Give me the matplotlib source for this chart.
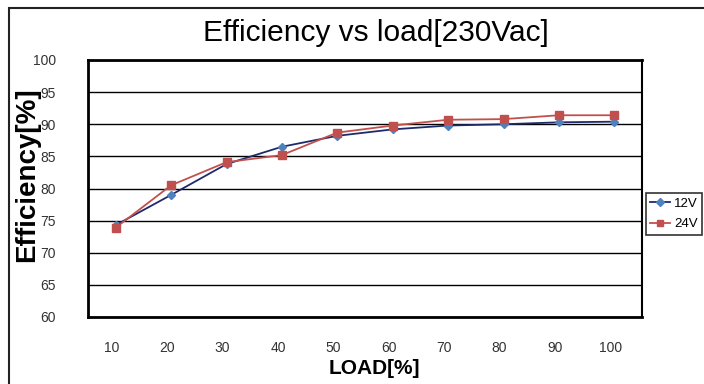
import matplotlib
matplotlib.use('Agg')
import matplotlib.pyplot as plt
import matplotlib.transforms as mtransforms
from matplotlib.patches import Rectangle

plt.rcParams['font.family'] = ['Liberation Sans', 'DejaVu Sans']

# Efficiency readings at each load step
load = [10, 20, 30, 40, 50, 60, 70, 80, 90, 100]
eff_12v = [74.3, 79.0, 83.8, 86.5, 88.2, 89.2, 89.8, 90.0, 90.3, 90.4]
eff_24v = [73.9, 80.5, 84.1, 85.2, 88.7, 89.8, 90.7, 90.8, 91.4, 91.4]
y_ticks = [60, 65, 70, 75, 80, 85, 90, 95, 100]

NAVY = '#1f2a6b'
BLUE = '#4f81bd'
RED = '#c0504d'

fig = plt.figure(figsize=(7.04, 3.84), dpi=100)
fig.patch.set_facecolor('white')

# outer chart frame (runs off the right and bottom edges)
fig.patches.append(Rectangle((9 / 704, -0.1), 1.2, (384 - 8) / 384 + 0.1,
                             transform=fig.transFigure, fill=False,
                             edgecolor='#222222', linewidth=1.5))

ax = fig.add_axes([88 / 704, 1 - 317 / 384, (642 - 88) / 704, (317 - 60) / 384])
ax.set_xlim(5, 105)
ax.set_ylim(60, 100)

for v in y_ticks:
    ax.axhline(v, color='black', linewidth=1.0, zorder=1)

ax.plot(load, eff_12v, color=NAVY, linewidth=1.3, marker='D', markersize=4,
        markerfacecolor=BLUE, markeredgecolor=BLUE, label='12V', zorder=3)
ax.plot(load, eff_24v, color=RED, linewidth=1.3, marker='s', markersize=6,
        markerfacecolor=RED, markeredgecolor=RED, label='24V', zorder=4)

for side in ['left', 'right', 'top', 'bottom']:
    ax.spines[side].set_color('black')
    ax.spines[side].set_linewidth(2)
ax.spines['right'].set_linewidth(1.5)

ax.set_xticks(load)
ax.set_xticklabels([str(v) for v in load])
ax.set_yticks(y_ticks)
ax.tick_params(axis='both', length=0, labelsize=10, colors='#333333')
ax.tick_params(axis='x', pad=17)
ax.tick_params(axis='y', pad=23)
offset = mtransforms.ScaledTranslation(-4 / 100, 0, fig.dpi_scale_trans)
for lbl in ax.get_xticklabels():
    lbl.set_transform(lbl.get_transform() + offset)

fig.text(376 / 704, 1 - 33 / 384, 'Efficiency vs load[230Vac]', ha='center', va='center',
         fontsize=21.5, color='black')
fig.text(27 / 704, 1 - 175 / 384, 'Efficiency[%]', ha='center', va='center',
         rotation=90, fontsize=20, fontweight='bold', color='black')
fig.text(374 / 704, 1 - 368 / 384, 'LOAD[%]', ha='center', va='center',
         fontsize=15, fontweight='bold', color='black')

leg = fig.legend(loc='center', bbox_to_anchor=(674 / 704, 1 - 214 / 384), frameon=True,
                 fancybox=False, edgecolor='black', fontsize=9.5, handlelength=1.5,
                 handletextpad=0.3, borderpad=0.35, labelspacing=0.6, borderaxespad=0)
leg.get_frame().set_linewidth(1.2)
for h in leg.legend_handles:
    h.set_markersize(4.5)

fig.savefig('out.png', dpi=100, facecolor='white')
